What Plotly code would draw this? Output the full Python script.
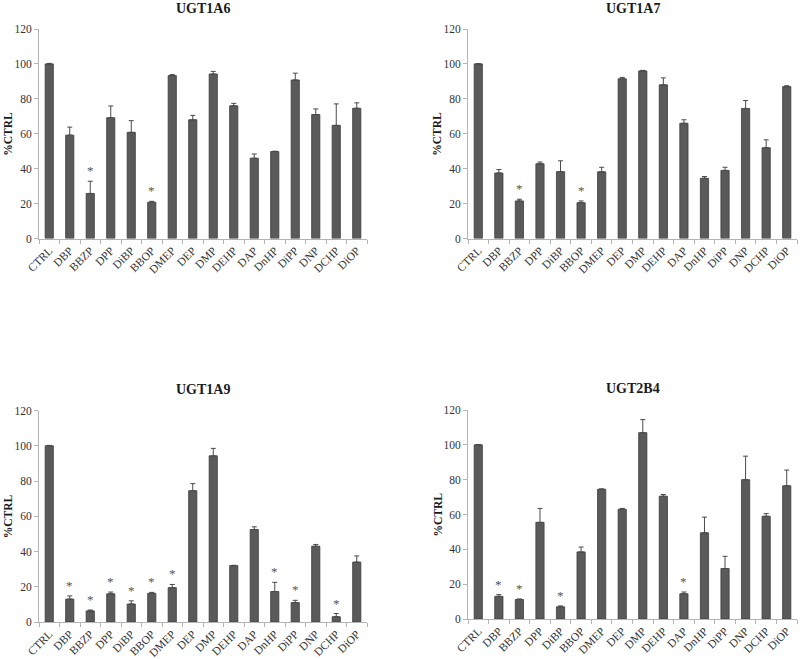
import plotly.graph_objects as go

categories = ["CTRL", "DBP", "BBZP", "DPP", "DiBP", "BBOP", "DMEP", "DEP", "DMP",
              "DEHP", "DAP", "DnHP", "DiPP", "DNP", "DCHP", "DiOP"]

titles = ["UGT1A6", "UGT1A7", "UGT1A9", "UGT2B4"]

ugt1a6_vals = [100, 59.2, 25.8, 69.2, 60.8, 20.8, 93.3, 68.0, 94.2, 76.0, 46.0, 49.8, 90.8, 71.0, 64.8, 74.6]
ugt1a6_err = [0.3, 4.6, 7.0, 6.7, 6.7, 0.5, 0.6, 2.5, 1.5, 1.4, 2.4, 0.2, 3.9, 3.2, 12.3, 3.1]
ugt1a6_sig = ["BBZP", "BBOP"]

ugt1a7_vals = [100, 37.5, 21.5, 42.8, 38.3, 20.5, 38.2, 91.5, 96.0, 88.0, 66.0, 34.5, 39.0, 74.5, 52.0, 87.0]
ugt1a7_err = [0.2, 2.0, 1.0, 1.0, 6.2, 1.0, 2.6, 0.8, 0.3, 4.0, 2.0, 1.0, 1.8, 4.5, 4.5, 0.5]
ugt1a7_sig = ["BBZP", "BBOP"]

ugt1a9_vals = [100, 13.0, 6.3, 16.0, 10.2, 16.3, 19.5, 74.5, 94.3, 32.0, 52.5, 17.3, 11.0, 43.0, 3.0, 34.0]
ugt1a9_err = [0.2, 1.8, 0.5, 1.0, 1.8, 0.5, 1.8, 4.0, 4.2, 0.2, 1.5, 5.2, 1.3, 1.0, 1.8, 3.5]
ugt1a9_sig = ["DBP", "BBZP", "DPP", "DiBP", "BBOP", "DMEP", "DnHP", "DiPP", "DCHP"]

ugt2b4_vals = [100, 13.0, 11.2, 55.5, 7.0, 38.5, 74.5, 63.0, 107.0, 70.5, 14.5, 49.5, 29.0, 80.0, 59.0, 76.5]
ugt2b4_err = [0.2, 1.0, 0.3, 8.0, 0.5, 2.8, 0.2, 0.5, 7.5, 1.0, 1.0, 9.0, 7.0, 13.5, 1.5, 9.0]
ugt2b4_sig = ["DBP", "BBZP", "DiBP", "DAP"]

y_ticks = [0, 20, 40, 60, 80, 100, 120]

panels = [
    (ugt1a6_vals, ugt1a6_err, ugt1a6_sig),
    (ugt1a7_vals, ugt1a7_err, ugt1a7_sig),
    (ugt1a9_vals, ugt1a9_err, ugt1a9_sig),
    (ugt2b4_vals, ugt2b4_err, ugt2b4_sig),
]

W, H = 800, 659
# pixel geometry of plot areas: (x0, x1, y_top(120), y_bottom(0))
geom = [
    (39, 367, 29, 238.5),
    (468, 797, 29, 238.5),
    (39, 367, 410.5, 622),
    (468, 797, 410, 619),
]
ytitle_x = [8, 437, 8, 437]
title_y = [9, 9, 389, 388]

serif = "Liberation Serif, Times New Roman, serif"
bar_color = "#5a5a5a"
axis_color = "#b4b4b4"
text_color = "#333333"

fig = go.Figure()
annotations = []

for i, (vals, errs, sig) in enumerate(panels):
    n = i + 1
    xa = "x" if n == 1 else f"x{n}"
    ya = "y" if n == 1 else f"y{n}"
    fig.add_trace(go.Bar(
        x=categories, y=vals,
        xaxis=xa, yaxis=ya,
        marker=dict(color=bar_color, line=dict(color="#3c3c3c", width=0.8)),
        error_y=dict(type="data", array=errs, arrayminus=[0] * len(errs),
                     symmetric=False, color="#4a4a4a", thickness=1, width=2.5),
        showlegend=False,
    ))
    x0, x1, yt, yb = geom[i]
    dom_x = [x0 / W, x1 / W]
    dom_y = [1 - yb / H, 1 - yt / H]
    axis_x = dict(
        domain=dom_x, anchor=ya, type="category", automargin=False,
        showline=True, linecolor=axis_color, linewidth=1,
        ticks="outside", ticklen=4, tickcolor=axis_color, tickson="boundaries",
        tickangle=-45, tickfont=dict(family=serif, size=11.5, color=text_color),
        showgrid=False, zeroline=False,
    )
    axis_y = dict(
        domain=dom_y, anchor=xa, range=[0, 120], tickvals=y_ticks, automargin=False,
        showline=True, linecolor=axis_color, linewidth=1,
        ticks="outside", ticklen=4, tickcolor=axis_color,
        tickfont=dict(family=serif, size=11.5, color=text_color),
        showgrid=False, zeroline=False,
    )
    key_x = "xaxis" if n == 1 else f"xaxis{n}"
    key_y = "yaxis" if n == 1 else f"yaxis{n}"
    fig.update_layout(**{key_x: axis_x, key_y: axis_y})

    # titles
    annotations.append(dict(
        text=f"<b>{titles[i]}</b>", x=(x0 + x1) / 2 / W, y=1 - title_y[i] / H,
        xref="paper", yref="paper", xanchor="center", yanchor="middle",
        showarrow=False, font=dict(family=serif, size=14, color="#1a1a1a"),
    ))
    annotations.append(dict(
        text="<b>%CTRL</b>", x=ytitle_x[i] / W, y=1 - (yt + yb) / 2 / H,
        xref="paper", yref="paper", xanchor="center", yanchor="middle",
        textangle=-90, showarrow=False,
        font=dict(family=serif, size=11.5, color="#1a1a1a"),
    ))
    # significance stars
    xref = "x" if n == 1 else f"x{n}"
    yref = "y" if n == 1 else f"y{n}"
    for c in sig:
        k = categories.index(c)
        annotations.append(dict(
            text="*", x=c, y=vals[k] + errs[k], xref=xref, yref=yref,
            xanchor="center", yanchor="bottom", yshift=1, showarrow=False,
            font=dict(family=serif, size=13, color="#555555"),
        ))

fig.update_layout(
    width=W, height=H,
    margin=dict(l=0, r=0, t=0, b=0, autoexpand=False),
    paper_bgcolor="white", plot_bgcolor="white",
    bargap=0.6,
    annotations=annotations,
)

fig.write_html(
    "out.html",
    config={"displayModeBar": False},
    post_script="document.body.style.margin='0';document.body.style.overflow='hidden';",
)
